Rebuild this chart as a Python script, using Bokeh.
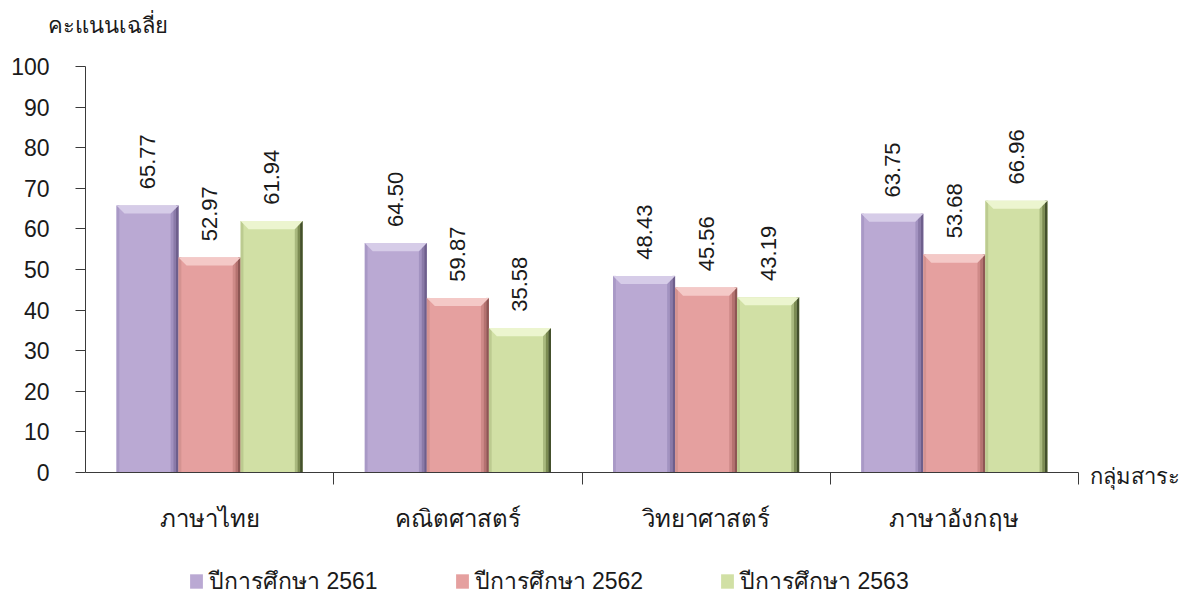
import numpy as np
from bokeh.plotting import figure
from bokeh.models import (Range1d, FixedTicker, Legend, LegendItem)
from bokeh.core.properties import value
from bokeh.embed import file_html
from bokeh.resources import INLINE

# ---- data ----
subjects = ["ภาษาไทย", "คณิตศาสตร์", "วิทยาศาสตร์", "ภาษาอังกฤษ"]
series = ["ปีการศึกษา 2561", "ปีการศึกษา 2562", "ปีการศึกษา 2563"]
bars_2561 = [65.77, 56.50, 48.43, 63.75]
bars_2562 = [52.97, 43.00, 45.56, 53.68]
bars_2563 = [61.94, 35.58, 43.19, 66.96]
labels_2561 = ["65.77", "64.50", "48.43", "63.75"]
labels_2562 = ["52.97", "59.87", "45.56", "53.68"]
labels_2563 = ["61.94", "35.58", "43.19", "66.96"]
y_ticks = [0, 10, 20, 30, 40, 50, 60, 70, 80, 90, 100]
y_title = "คะแนนเฉลี่ย"
x_title = "กลุ่มสาระ"

FONT = "Liberation Sans"
TXT = "#1a1a1a"
AX = "#3a3a3a"
main_cols = ["#BAA9D3", "#E5A09F", "#D1E0A5"]
top_cols = ["#D6CCE8", "#F4C9C7", "#ECF5CF"]
right_cols = [["#A292C0", "#8A7AA8", "#6E5F8C"],
              ["#CF8A88", "#B57270", "#8E5654"],
              ["#A9B97E", "#7B8B52", "#44502C"]]
left_cols = ["#A999C6", "#D49391", "#BCCB90"]

W, H = 1189, 605
# frame fills the whole figure; axes are drawn at fixed locations inside it
p = figure(width=W, height=H, output_backend="svg", toolbar_location=None,
           x_range=Range1d(-0.3424, 4.4471), y_range=Range1d(-32.76, 116.26),
           min_border=0, min_border_left=0, min_border_right=0,
           min_border_top=0, min_border_bottom=0)
p.grid.visible = False
p.outline_line_color = None

bw = 0.25
offsets = [-0.25, 0.0, 0.25]
dx = 0.032   # ~8px bevel horizontally
dy = 2.0     # ~8px bevel vertically
label_gap = 4.0
all_vals = [bars_2561, bars_2562, bars_2563]
all_labels = [labels_2561, labels_2562, labels_2563]
legend_items = []
for k in range(3):
    xc = np.arange(len(subjects)) + 0.5 + offsets[k]
    v = np.array(all_vals[k])
    L = xc - bw / 2
    R = xc + bw / 2
    r = p.quad(left=L, right=R, bottom=0, top=v, fill_color=main_cols[k], line_color=None)
    legend_items.append(LegendItem(label=series[k], renderers=[r]))
    p.quad(left=L, right=L + dx * 0.35, bottom=0, top=v, fill_color=left_cols[k], line_color=None)
    for j in range(3):
        p.quad(left=R - dx + j * dx / 3, right=R - dx + (j + 1) * dx / 3, bottom=0,
               top=v - dy * (1 - (j + 1) / 3), fill_color=right_cols[k][j], line_color=None)
    xs = [[l, r_, r_ - dx, l + dx] for l, r_ in zip(L, R)]
    ys = [[t, t, t - dy, t - dy] for t in v]
    p.patches(xs, ys, fill_color=top_cols[k], line_color=None)
    p.text(x=xc, y=v + label_gap, text=all_labels[k], angle=np.pi / 2,
           text_align="left", text_baseline="middle",
           text_font=value(FONT), text_font_size="22px", text_color=TXT)

# axes at fixed positions
yax = p.yaxis[0]
yax.fixed_location = 0
yax.bounds = (0, 100)
yax.ticker = FixedTicker(ticks=y_ticks)
yax.major_tick_in = 0
yax.major_tick_out = 10
yax.minor_tick_line_color = None
yax.axis_line_color = AX
yax.major_tick_line_color = AX
yax.major_label_text_font = FONT
yax.major_label_text_font_size = "23px"
yax.major_label_text_color = TXT
yax.major_label_standoff = 26

xax = p.xaxis[0]
xax.fixed_location = 0
xax.bounds = (0, 4)
xax.ticker = FixedTicker(ticks=[i + 0.5 for i in range(len(subjects))],
                         minor_ticks=[1, 2, 3, 4])
xax.major_label_overrides = {i + 0.5: s for i, s in enumerate(subjects)}
xax.major_tick_line_color = None
xax.major_tick_in = 0
xax.major_tick_out = 0
xax.minor_tick_in = 0
xax.minor_tick_out = 12
xax.minor_tick_line_color = AX
xax.axis_line_color = AX
xax.major_label_text_font = FONT
xax.major_label_text_font_size = "24px"
xax.major_label_text_color = TXT
xax.major_label_standoff = 21

p.text(x=[-0.153], y=[110.1], text=[y_title], text_font=value(FONT), text_font_size="22px",
       text_color=TXT, text_baseline="middle", text_align="left")
p.text(x=[4.048], y=[-1.0], text=[x_title], text_font=value(FONT), text_font_size="22px",
       text_color=TXT, text_baseline="middle", text_align="left")

legend = Legend(items=legend_items, orientation="horizontal", location=(188, 6),
                glyph_width=16, glyph_height=18, label_standoff=5, spacing=76,
                padding=0, margin=0,
                label_text_font=FONT, label_text_font_size="23px",
                label_text_color=TXT, border_line_color=None,
                background_fill_alpha=0)
p.add_layout(legend, "center")

open("out.html", "w").write(file_html(p, INLINE))
